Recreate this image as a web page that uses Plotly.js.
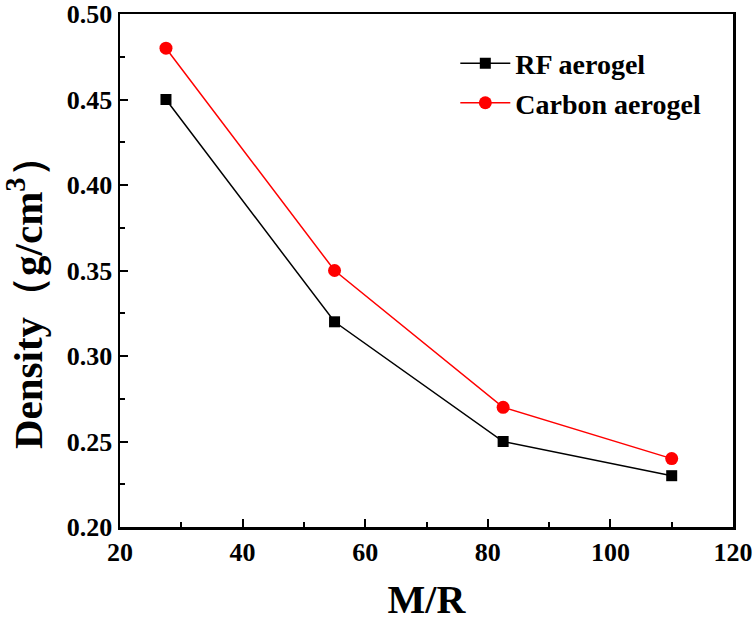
<!DOCTYPE html>
<html>
<head>
<meta charset="utf-8">
<script src="https://cdn.plot.ly/plotly-3.0.1.min.js"></script>
<style>
html,body{margin:0;padding:0;background:#fff;}
#chart{width:756px;height:623px;}
</style>
</head>
<body>
<div id="chart"></div>
<script>
const mr = [27.5, 55, 82.5, 110];
const rfDensity = [0.45, 0.32, 0.25, 0.23];
const carbonDensity = [0.48, 0.35, 0.27, 0.24];
const seriesNames = ['RF aerogel', 'Carbon aerogel'];
const xTickVals = [20, 40, 60, 80, 100, 120];
const xTickText = ['20', '40', '60', '80', '100', '120'];
const yTickVals = [0.20, 0.25, 0.30, 0.35, 0.40, 0.45, 0.50];
const yTickText = ['0.20', '0.25', '0.30', '0.35', '0.40', '0.45', '0.50'];
const xTitle = 'M/R';
const yTitle = 'Density（g/cm<sup>3</sup>）';

const FAM = 'Liberation Serif';
function f(size) { return {family: FAM, size: size, color: '#000', weight: 'bold'}; }

const traces = [
  {x: mr, y: rfDensity, name: seriesNames[0], type: 'scatter', mode: 'lines+markers',
   line: {color: '#000', width: 1.5}, marker: {symbol: 'square', size: 11, color: '#000'}},
  {x: mr, y: carbonDensity, name: seriesNames[1], type: 'scatter', mode: 'lines+markers',
   line: {color: '#ff0000', width: 1.5}, marker: {symbol: 'circle', size: 13, color: '#ff0000'}}
];

const layout = {
  width: 756, height: 623,
  font: f(26),
  margin: {l: 120, r: 23, t: 14, b: 96},
  paper_bgcolor: '#fff', plot_bgcolor: '#fff',
  showlegend: true,
  legend: {x: 0.547, y: 0.952, xanchor: 'left', yanchor: 'top', bgcolor: 'rgba(0,0,0,0)',
           itemwidth: 50, font: f(28), tracegroupgap: 0},
  xaxis: {
    showline: true, mirror: true, linecolor: '#000', linewidth: 2.5,
    ticks: 'inside', ticklen: 8, tickwidth: 2, tickcolor: '#000',
    showgrid: false, zeroline: false, tickfont: f(26),
    range: [20, 120], tickmode: 'array', tickvals: xTickVals, ticktext: xTickText,
    minor: {dtick: 10, tick0: 20, ticks: 'inside', ticklen: 5, tickwidth: 2, tickcolor: '#000'},
    title: {text: xTitle, standoff: 20, font: f(40)}
  },
  yaxis: {
    showline: true, mirror: true, linecolor: '#000', linewidth: 2.5,
    ticks: 'inside', ticklen: 8, tickwidth: 2, tickcolor: '#000',
    showgrid: false, zeroline: false, tickfont: f(26),
    range: [0.2, 0.5], tickmode: 'array', tickvals: yTickVals, ticktext: yTickText,
    minor: {dtick: 0.025, tick0: 0.2, ticks: 'inside', ticklen: 5, tickwidth: 2, tickcolor: '#000'}
  },
  annotations: [{
    x: 0, xref: 'paper', y: 0.456, yref: 'paper', xanchor: 'center', yanchor: 'middle', xshift: -95,
    textangle: -90, text: yTitle, showarrow: false, font: f(41)
  }]
};

Plotly.newPlot('chart', traces, layout, {displayModeBar: false, staticPlot: true});
</script>
</body>
</html>
